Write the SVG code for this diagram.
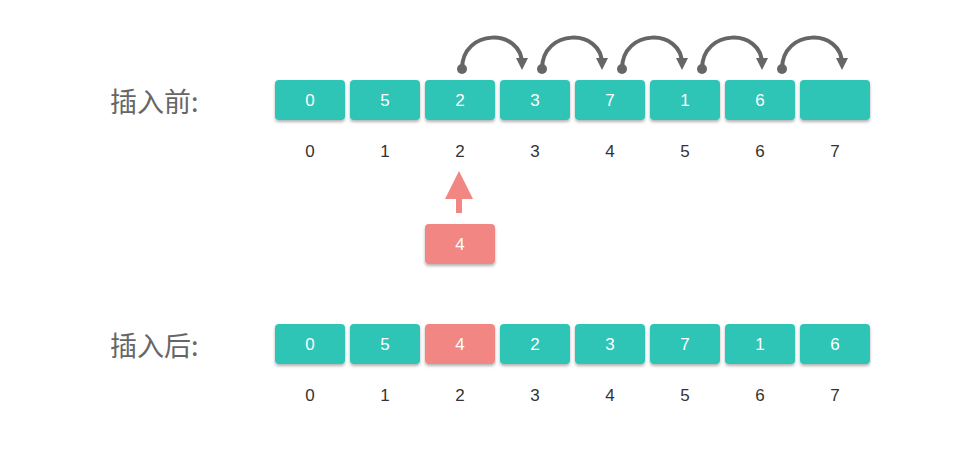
<svg xmlns="http://www.w3.org/2000/svg" width="980" height="450" viewBox="0 0 980 450">
<defs>
<style>
.b{fill:#2ec4b6}.p{fill:#f28682}
.bt{font-family:"Liberation Sans",Arial,sans-serif;font-size:17px;fill:#fff;text-anchor:middle}
.it{font-family:"Liberation Sans",Arial,sans-serif;font-size:17px;fill:#333;text-anchor:middle}
.lb{font-family:"Noto Sans CJK SC",sans-serif;font-size:27px;fill:#666}
.arc{fill:none;stroke:#666;stroke-width:4}
</style>
<filter id="sh" x="-10%" y="-10%" width="120%" height="140%"><feDropShadow dx="0" dy="2" stdDeviation="1.5" flood-color="#000" flood-opacity="0.3"/></filter>
<marker id="ah" viewBox="0 0 10 10" refX="5" refY="5" markerWidth="3" markerHeight="3" orient="auto"><path d="M0,0L10,5L0,10z" fill="#666"/></marker>
</defs>
<text class="lb" x="110" y="112">插入前:</text>
<text class="lb" x="110" y="356">插入后:</text>
<g id="top" filter="url(#sh)">
<rect class="b" x="275" y="80" width="70" height="40" rx="4"/><rect class="b" x="350" y="80" width="70" height="40" rx="4"/><rect class="b" x="425" y="80" width="70" height="40" rx="4"/><rect class="b" x="500" y="80" width="70" height="40" rx="4"/><rect class="b" x="575" y="80" width="70" height="40" rx="4"/><rect class="b" x="650" y="80" width="70" height="40" rx="4"/><rect class="b" x="725" y="80" width="70" height="40" rx="4"/><rect class="b" x="800" y="80" width="70" height="40" rx="4"/>
</g>
<g id="toptext">
<text class="bt" x="310" y="106">0</text><text class="bt" x="385" y="106">5</text><text class="bt" x="460" y="106">2</text><text class="bt" x="535" y="106">3</text><text class="bt" x="610" y="106">7</text><text class="bt" x="685" y="106">1</text><text class="bt" x="760" y="106">6</text>
<text class="it" x="310" y="157">0</text><text class="it" x="385" y="157">1</text><text class="it" x="460" y="157">2</text><text class="it" x="535" y="157">3</text><text class="it" x="610" y="157">4</text><text class="it" x="685" y="157">5</text><text class="it" x="760" y="157">6</text><text class="it" x="835" y="157">7</text>
</g>
<g id="connectors">
<g id="arcs" fill="#666">
<path class="arc" d="M462,69 C462,28 522,28 522,64" marker-end="url(#ah)"/><circle cx="462" cy="69" r="5"/>
<path class="arc" d="M542,69 C542,28 602,28 602,64" marker-end="url(#ah)"/><circle cx="542" cy="69" r="5"/>
<path class="arc" d="M622,69 C622,28 682,28 682,64" marker-end="url(#ah)"/><circle cx="622" cy="69" r="5"/>
<path class="arc" d="M702,69 C702,28 762,28 762,64" marker-end="url(#ah)"/><circle cx="702" cy="69" r="5"/>
<path class="arc" d="M782,69 C782,28 842,28 842,64" marker-end="url(#ah)"/><circle cx="782" cy="69" r="5"/>
</g>
<path d="M459,171 L473,199 L462,199 L462,213 L456,213 L456,199 L445,199 Z" fill="#f28682"/>
</g>
<g id="new" filter="url(#sh)"><rect class="p" x="425" y="224" width="70" height="40" rx="4"/></g>
<text class="bt" x="460" y="250">4</text>
<g id="bottom" filter="url(#sh)">
<rect class="b" x="275" y="324" width="70" height="40" rx="4"/><rect class="b" x="350" y="324" width="70" height="40" rx="4"/><rect class="p" x="425" y="324" width="70" height="40" rx="4"/><rect class="b" x="500" y="324" width="70" height="40" rx="4"/><rect class="b" x="575" y="324" width="70" height="40" rx="4"/><rect class="b" x="650" y="324" width="70" height="40" rx="4"/><rect class="b" x="725" y="324" width="70" height="40" rx="4"/><rect class="b" x="800" y="324" width="70" height="40" rx="4"/>
</g>
<g id="bottext">
<text class="bt" x="310" y="350">0</text><text class="bt" x="385" y="350">5</text><text class="bt" x="460" y="350">4</text><text class="bt" x="535" y="350">2</text><text class="bt" x="610" y="350">3</text><text class="bt" x="685" y="350">7</text><text class="bt" x="760" y="350">1</text><text class="bt" x="835" y="350">6</text>
<text class="it" x="310" y="401">0</text><text class="it" x="385" y="401">1</text><text class="it" x="460" y="401">2</text><text class="it" x="535" y="401">3</text><text class="it" x="610" y="401">4</text><text class="it" x="685" y="401">5</text><text class="it" x="760" y="401">6</text><text class="it" x="835" y="401">7</text>
</g>
</svg>
